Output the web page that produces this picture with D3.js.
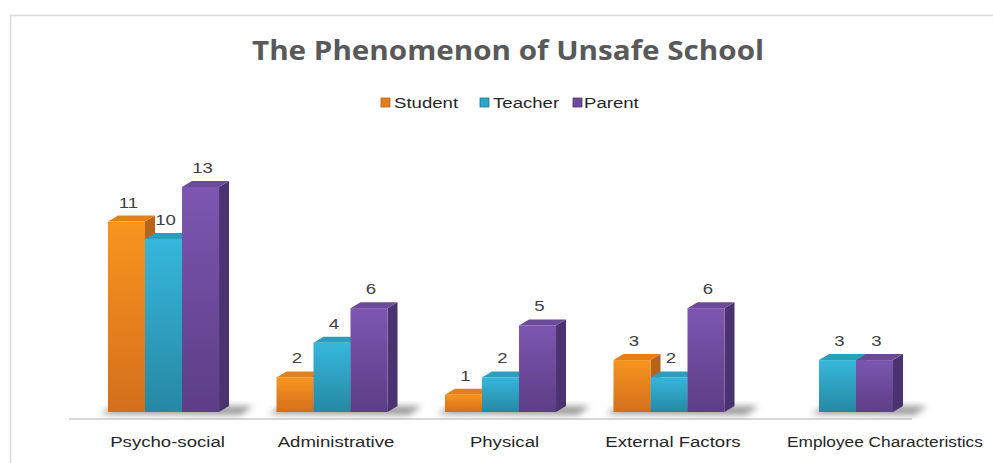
<!DOCTYPE html>
<html>
<head>
<meta charset="utf-8">
<script src="https://cdn.jsdelivr.net/npm/d3@7"></script>
<style>
  body { margin: 0; background: #fff; }
  svg { display: block; }
</style>
</head>
<body>
<svg id="chart" width="993" height="463"></svg>
<script>
// data
var categories = ['Psycho-social', 'Administrative', 'Physical', 'External Factors', 'Employee Characteristics'];
var seriesNames = ['Student', 'Teacher', 'Parent'];
var student = [11, 2, 1, 3, 0];
var teacher = [10, 4, 2, 2, 3];
var parent = [13, 6, 5, 6, 3];
var seriesValues = [student, teacher, parent];

// colours: front light, front dark, top, side
var palette = {
    Student: { light: '#f8951f', dark: '#d36f1b', top: '#e2801e', side: '#b9631a', key: '#e57b1c' },
    Teacher: { light: '#36b7dc', dark: '#2688a3', top: '#2c9dbd', side: '#1f7891', key: '#2ea4c6' },
    Parent:  { light: '#7d56b1', dark: '#5c3e86', top: '#6a4a99', side: '#4a3370', key: '#6c4a9c' }
};

var svg = d3.select('#chart');
var W = 993, H = 463;
var depthX = 10, depthY = 6;
var stretch = 1.2; // the text in the picture is drawn a bit wide

var defs = svg.append('defs');
seriesNames.forEach(function(s) {
    var g = defs.append('linearGradient').attr('id', 'grad-' + s)
        .attr('x1', 0).attr('y1', 0).attr('x2', 0).attr('y2', 1);
    g.append('stop').attr('offset', '0%').attr('stop-color', palette[s].light);
    g.append('stop').attr('offset', '100%').attr('stop-color', palette[s].dark);
});
defs.append('filter').attr('id', 'blur').attr('x', '-20%').attr('y', '-50%').attr('width', '140%').attr('height', '200%')
    .append('feGaussianBlur').attr('stdDeviation', 3);

function wideText(sel, px) {
    sel.style('font-family', '"Liberation Sans", Arial, sans-serif')
        .style('font-size', px + 'px');
}
function place(sel, fx, fy) {
    sel.attr('transform', function(d, i) {
        return 'translate(' + fx(d, i) + ',' + fy(d, i) + ') scale(' + stretch + ',1)';
    });
}

// chart frame
svg.append('path')
    .attr('d', 'M10.5,' + (H + 5) + 'V15.5H' + (W + 5))
    .attr('fill', 'none').attr('stroke', '#d9d9d9').attr('stroke-width', 1.5);

// title
svg.append('text')
    .attr('x', 508).attr('y', 60)
    .attr('text-anchor', 'middle')
    .attr('textLength', 512).attr('lengthAdjust', 'spacingAndGlyphs')
    .style('font-family', '"Open Sans", sans-serif')
    .style('font-weight', 'bold')
    .style('font-size', '26px')
    .style('fill', '#595959')
    .text('The Phenomenon of Unsafe School');

// legend
var legendX = [381, 480, 573];
var legend = svg.append('g').selectAll('g').data(seriesNames).enter().append('g')
    .attr('transform', function(d, i) { return 'translate(' + legendX[i] + ',98)'; });
legend.append('rect').attr('width', 9).attr('height', 9)
    .attr('fill', function(d) { return palette[d].key; })
    .attr('stroke', function(d) { return palette[d].side; }).attr('stroke-width', 0.8);
legend.append('text')
    .call(wideText, 15.5)
    .call(place, function(d, i) { return i === 2 ? 11 : 13; }, function() { return 10; })
    .style('fill', '#262626')
    .text(function(d) { return d; });

// scales
var x0 = d3.scaleBand().domain(categories).range([108, 893]).paddingInner(0.341).paddingOuter(0);
var x1 = d3.scaleBand().domain(seriesNames).range([0, x0.bandwidth()]);
var y = d3.scaleLinear().domain([0, 13]).range([412, 187]);

// floor line
svg.append('line')
    .attr('x1', 69).attr('x2', 912).attr('y1', 419).attr('y2', 419)
    .attr('stroke', '#d9d9d9').attr('stroke-width', 2);

// shadows on the floor
var groups = svg.append('g').selectAll('g.cat').data(categories).enter().append('g')
    .attr('class', 'cat')
    .attr('transform', function(d) { return 'translate(' + x0(d) + ',0)'; });

groups.append('path')
    .attr('d', function(d, ci) {
        var first = seriesNames.findIndex(function(s, si) { return seriesValues[si][ci] > 0; });
        var left = x1(seriesNames[first]) - 8;
        var right = x0.bandwidth() + depthX + 24;
        return 'M' + left + ',' + (y(0) + 2) + 'L' + (left + 14) + ',' + (y(0) - 6) +
            'L' + right + ',' + (y(0) - 6) + 'L' + (right - 12) + ',' + (y(0) + 3) + 'Z';
    })
    .attr('fill', '#4a4a4a').attr('opacity', 0.55).attr('filter', 'url(#blur)');

// bars (side, top, front) drawn in series order
var bars = groups.selectAll('g.bar')
    .data(function(d, ci) {
        return seriesNames.map(function(s, si) { return { s: s, v: seriesValues[si][ci] }; })
            .filter(function(b) { return b.v > 0; });
    })
    .enter().append('g').attr('class', 'bar');

var bw = x1.bandwidth();
bars.append('path') // side face
    .attr('d', function(b) {
        var xr = x1(b.s) + bw, yt = y(b.v), yb = y(0);
        return 'M' + xr + ',' + yt + 'L' + (xr + depthX) + ',' + (yt - depthY) +
            'L' + (xr + depthX) + ',' + (yb - depthY) + 'L' + xr + ',' + yb + 'Z';
    })
    .attr('fill', function(b) { return palette[b.s].side; });
bars.append('path') // top face
    .attr('d', function(b) {
        var xl = x1(b.s), yt = y(b.v);
        return 'M' + xl + ',' + yt + 'L' + (xl + depthX) + ',' + (yt - depthY) +
            'L' + (xl + bw + depthX) + ',' + (yt - depthY) + 'L' + (xl + bw) + ',' + yt + 'Z';
    })
    .attr('fill', function(b) { return palette[b.s].top; });
bars.append('rect') // front face
    .attr('x', function(b) { return x1(b.s); })
    .attr('y', function(b) { return y(b.v); })
    .attr('width', bw)
    .attr('height', function(b) { return y(0) - y(b.v); })
    .attr('fill', function(b) { return 'url(#grad-' + b.s + ')'; });

// value labels
bars.append('text')
    .call(wideText, 15.5)
    .call(place, function(b) { return x1(b.s) + bw / 2 + 2; }, function(b) { return y(b.v) - depthY - 8; })
    .attr('text-anchor', 'middle')
    .style('fill', '#404040')
    .text(function(b) { return b.v; });

// category labels
svg.append('g').selectAll('text').data(categories).enter().append('text')
    .call(wideText, 15.5)
    .style('fill', '#262626')
    .text(function(d) { return d; })
    .each(function(d) {
        var t = d3.select(this), raw = this.getComputedTextLength();
        var wide = raw * stretch > x0.step();
        var px = wide ? x0(d) + 5 : x0(d) + x0.bandwidth() / 2 + 4;
        var sx = wide ? Math.min(stretch, (W - 10 - px) / raw) : stretch;
        t.attr('text-anchor', wide ? 'start' : 'middle')
            .attr('transform', 'translate(' + px + ',447) scale(' + sx + ',1)');
    });
</script>
</body>
</html>
